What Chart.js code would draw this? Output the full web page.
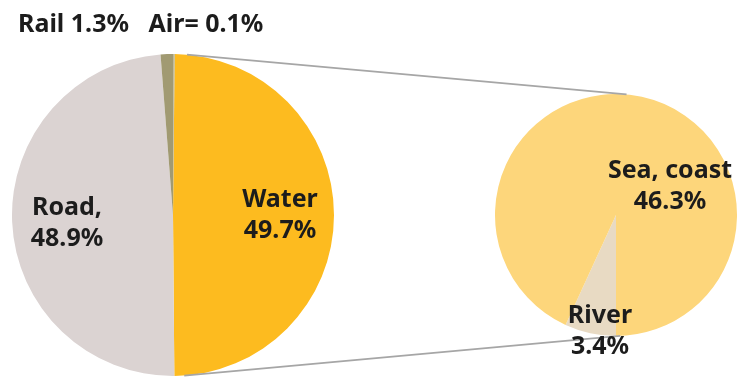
<!DOCTYPE html>
<html>
<head>
<meta charset="utf-8">
<script src="https://cdn.jsdelivr.net/npm/chart.js@4.4.1/dist/chart.umd.min.js"></script>
<style>
  body { margin:0; background:#fff; width:737px; height:378px; overflow:hidden; position:relative;
         font-family:"Noto Sans", sans-serif; font-weight:bold; color:#1c1c1c; }
  .box { position:absolute; }
  #lines { position:absolute; left:0; top:0; z-index:2; pointer-events:none; }
  .lbl { position:absolute; z-index:3; font-size:25px; line-height:31px; text-align:center; white-space:pre; transform:translateX(-50%); }
  #title { position:absolute; left:18px; top:10px; font-size:25px; line-height:25px; white-space:pre; z-index:3; }
</style>
</head>
<body>
<div class="box" style="left:12px;top:54px;width:322px;height:322px"><canvas id="mainPie"></canvas></div>
<div class="box" style="left:495px;top:94px;width:242px;height:242px"><canvas id="subPie"></canvas></div>
<canvas id="lines" width="737" height="378"></canvas>
<div id="title"></div>
<div class="lbl" id="lblRoad" style="left:67px;top:190px"></div>
<div class="lbl" id="lblWater" style="left:280px;top:182px"></div>
<div class="lbl" id="lblSea" style="left:670px;top:153px"></div>
<div class="lbl" id="lblRiver" style="left:600px;top:298px"></div>
<script>
// main pie: transport mode shares
var mainCategories = ['Water', 'Road', 'Rail', 'Air']
var mainNames = ['Water', 'Road,', 'Rail', 'Air=']
var mainValues = [49.7, 48.9, 1.3, 0.1]
var mainColors = ['#fdbb1f', '#dbd3d2', '#a19a72', '#b8b38c']

// breakdown of water transport
var subCategories = ['River', 'Sea, coast']
var subValues = [3.4, 46.3]
var subColors = ['#e8dac3', '#fdd67b']

var baseOpts = {
  responsive: true,
  maintainAspectRatio: false,
  animation: false,
  layout: { padding: 0 },
  plugins: { legend: { display: false }, tooltip: { enabled: false } }
}

var mainChart = new Chart(document.getElementById('mainPie'), {
  type: 'pie',
  data: {
    labels: mainCategories,
    datasets: [{ data: mainValues, backgroundColor: mainColors, borderWidth: 0 }]
  },
  options: Object.assign({}, baseOpts, { rotation: 0.6 })
})

var subChart = new Chart(document.getElementById('subPie'), {
  type: 'pie',
  data: {
    labels: subCategories,
    datasets: [{ data: subValues, backgroundColor: subColors, borderWidth: 0 }]
  },
  options: Object.assign({}, baseOpts, { rotation: 180 })
})

function pct(v){ return v.toFixed(1) + '%' }

document.getElementById('title').textContent =
  mainNames[2] + ' ' + pct(mainValues[2]) + '   ' + mainNames[3] + ' ' + pct(mainValues[3])
document.getElementById('lblRoad').textContent = mainNames[1] + '\n' + pct(mainValues[1])
document.getElementById('lblWater').textContent = mainNames[0] + '\n' + pct(mainValues[0])
document.getElementById('lblSea').textContent = subCategories[1] + '\n' + pct(subValues[1])
document.getElementById('lblRiver').textContent = subCategories[0] + '\n' + pct(subValues[0])

// connector lines between the two pies
function edgePoint(chart, degFromTop){
  var arc = chart.getDatasetMeta(0).data[0]
  var rect = chart.canvas.getBoundingClientRect()
  var a = (degFromTop - 90) * Math.PI / 180
  return {
    x: rect.left + arc.x + arc.outerRadius * Math.cos(a),
    y: rect.top + arc.y + arc.outerRadius * Math.sin(a)
  }
}

function drawConnectors(){
  var ctx = document.getElementById('lines').getContext('2d')
  ctx.clearRect(0, 0, 737, 378)
  ctx.strokeStyle = '#a6a6a6'
  ctx.lineWidth = 1.8
  var pairs = [[edgePoint(mainChart, 5), edgePoint(subChart, 5)],
               [edgePoint(mainChart, 176), edgePoint(subChart, 178)]]
  pairs.forEach(function(p){
    ctx.beginPath()
    ctx.moveTo(p[0].x, p[0].y)
    ctx.lineTo(p[1].x, p[1].y)
    ctx.stroke()
  })
}
drawConnectors()
</script>
</body>
</html>
